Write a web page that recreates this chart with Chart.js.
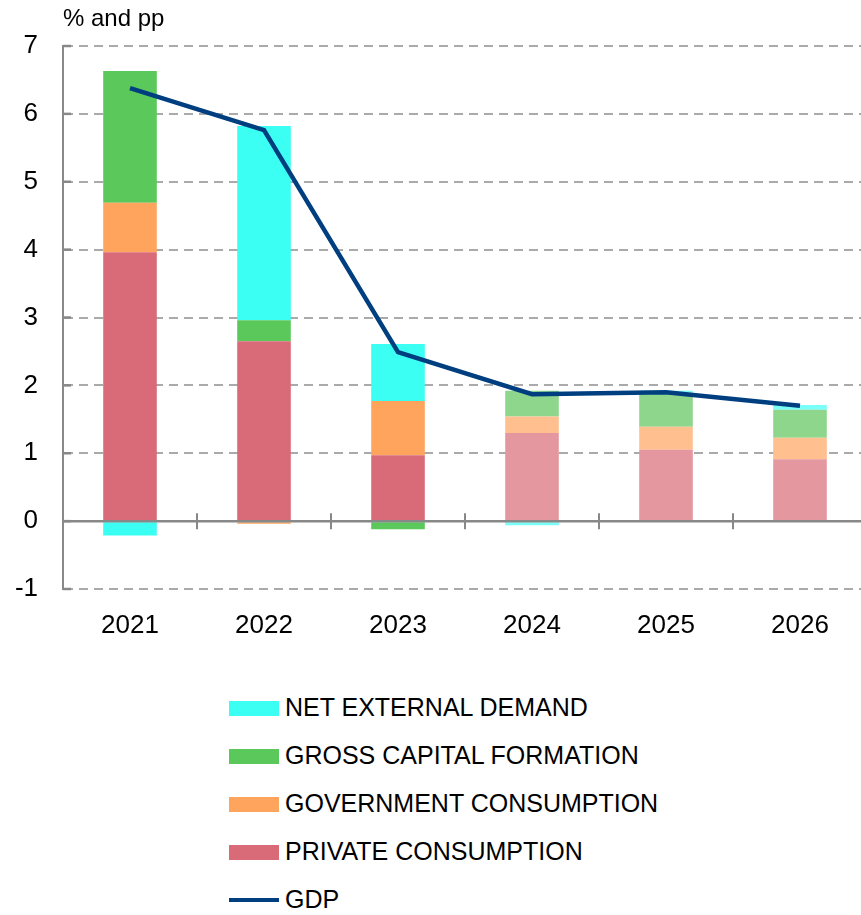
<!DOCTYPE html>
<html>
<head>
<meta charset="utf-8">
<script src="https://cdn.jsdelivr.net/npm/chart.js@4/dist/chart.umd.min.js"></script>
<style>
  html, body { margin: 0; padding: 0; background: #fff; overflow: hidden; width: 861px; height: 915px; }
  #wrap { position: relative; width: 870px; height: 915px; font-family: "Liberation Sans", Arial, Helvetica, sans-serif; color: #000; }
  #c { position: absolute; left: 0; top: 0; }
  #unit { position: absolute; left: 63px; top: 5px; font-size: 24px; line-height: 26px; }
  #legend { position: absolute; left: 229px; top: 684px; }
  .item { position: relative; height: 48px; }
  .sw { position: absolute; left: 0; width: 50px; }
  .lbl { position: absolute; left: 56px; top: 8px; font-size: 25px; line-height: 30px; white-space: nowrap; }
</style>
</head>
<body>
<div id="wrap">
  <canvas id="c" width="870" height="665"></canvas>
  <div id="unit">% and pp</div>
  <div id="legend"></div>
</div>
<script>
// ---- data ----
const years = ['2021', '2022', '2023', '2024', '2025', '2026'];
const privateConsumption = [3.96, 2.65, 0.97, 1.30, 1.05, 0.91];
const governmentConsumption = [0.73, -0.04, 0.80, 0.24, 0.34, 0.32];
const grossCapitalFormation = [1.94, 0.31, -0.12, 0.38, 0.50, 0.41];
const netExternalDemand = [-0.21, 2.86, 0.84, -0.06, 0.03, 0.07];
const gdp = [6.38, 5.76, 2.49, 1.87, 1.90, 1.70];
const projectionFrom = 3; // index of first projected year (lighter colours)
const yTicks = [-1, 0, 1, 2, 3, 4, 5, 6, 7];

// ---- styles ----
const colors = {
  ned: ['#3cfff3', '#7afff8'],
  gcf: ['#5ac85a', '#8dd68b'],
  gov: ['#ffa45c', '#ffbf8e'],
  pc:  ['#d96b78', '#e4979f'],
  gdp: '#003f7f'
};
const perBar = (pair) => years.map((_, i) => i >= projectionFrom ? pair[1] : pair[0]);

const FONT = '"Liberation Sans", Arial, Helvetica, sans-serif';

const axisDecor = {
  id: 'axisDecor',
  afterDatasetsDraw(chart) {
    const {ctx, chartArea, scales: {x, y}} = chart;
    const y0 = y.getPixelForValue(0);
    ctx.save();
    ctx.strokeStyle = '#888888';
    ctx.lineWidth = 2.5;
    ctx.beginPath();
    ctx.moveTo(chartArea.left, y0);
    ctx.lineTo(chartArea.right, y0);
    ctx.stroke();
    ctx.lineWidth = 2;
    for (let i = 1; i < years.length; i++) {
      const xb = (x.getPixelForValue(i - 1) + x.getPixelForValue(i)) / 2;
      ctx.beginPath();
      ctx.moveTo(xb, y0 - 8);
      ctx.lineTo(xb, y0 + 8);
      ctx.stroke();
    }
    // inner tick stubs on the value axis
    ctx.lineWidth = 2.5;
    yTicks.forEach(v => {
      const yy = y.getPixelForValue(v);
      ctx.beginPath();
      ctx.moveTo(chartArea.left, yy);
      ctx.lineTo(chartArea.left + 8, yy);
      ctx.stroke();
    });
    ctx.restore();
  }
};

new Chart(document.getElementById('c'), {
  data: {
    labels: years,
    datasets: [
      { type: 'line', label: 'GDP', data: gdp, borderColor: colors.gdp, borderWidth: 4.5,
        pointRadius: 0, fill: false, tension: 0, order: 0, borderCapStyle: 'butt' },
      { type: 'bar', label: 'PRIVATE CONSUMPTION', data: privateConsumption, backgroundColor: perBar(colors.pc), order: 1 },
      { type: 'bar', label: 'GOVERNMENT CONSUMPTION', data: governmentConsumption, backgroundColor: perBar(colors.gov), order: 1 },
      { type: 'bar', label: 'GROSS CAPITAL FORMATION', data: grossCapitalFormation, backgroundColor: perBar(colors.gcf), order: 1 },
      { type: 'bar', label: 'NET EXTERNAL DEMAND', data: netExternalDemand, backgroundColor: perBar(colors.ned), order: 1 }
    ]
  },
  options: {
    responsive: false,
    animation: false,
    devicePixelRatio: 1,
    layout: { padding: { top: 46, left: 0, right: 3, bottom: 0 } },
    datasets: { bar: { barPercentage: 0.4, categoryPercentage: 1, borderWidth: 0 } },
    plugins: { legend: { display: false }, tooltip: { enabled: false } },
    scales: {
      x: {
        stacked: true,
        grid: { display: false },
        border: { display: false },
        ticks: { font: { family: FONT, size: 26 }, color: '#000', padding: 13, maxRotation: 0 },
        afterFit(s) { s.height = 665 - 589; }
      },
      y: {
        stacked: true,
        min: -1, max: 7,
        afterBuildTicks(s) { s.ticks = yTicks.map(v => ({ value: v })); },
        ticks: { font: { family: FONT, size: 26 }, color: '#000', padding: 25 },
        grid: {
          drawTicks: false,
          lineWidth: 2,
          color: (ctx) => (ctx.tick && ctx.tick.value === 0) ? 'rgba(0,0,0,0)' : '#aaaaaa'
        },
        border: { display: true, color: '#888888', width: 2, dash: [9, 6] },
        afterFit(s) { s.width = 63; }
      }
    }
  },
  plugins: [axisDecor]
});

// ---- HTML legend ----
const legendItems = [
  { label: 'NET EXTERNAL DEMAND', color: colors.ned[0], kind: 'bar' },
  { label: 'GROSS CAPITAL FORMATION', color: colors.gcf[0], kind: 'bar' },
  { label: 'GOVERNMENT CONSUMPTION', color: colors.gov[0], kind: 'bar' },
  { label: 'PRIVATE CONSUMPTION', color: colors.pc[0], kind: 'bar' },
  { label: 'GDP', color: colors.gdp, kind: 'line' }
];
const lg = document.getElementById('legend');
legendItems.forEach(it => {
  const row = document.createElement('div');
  row.className = 'item';
  const sw = document.createElement('div');
  sw.className = 'sw';
  sw.style.background = it.color;
  if (it.kind === 'bar') { sw.style.top = '17px'; sw.style.height = '15px'; }
  else { sw.style.top = '22px'; sw.style.height = '4px'; }
  const tx = document.createElement('div');
  tx.className = 'lbl';
  tx.textContent = it.label;
  row.appendChild(sw); row.appendChild(tx);
  lg.appendChild(row);
});
</script>
</body>
</html>
